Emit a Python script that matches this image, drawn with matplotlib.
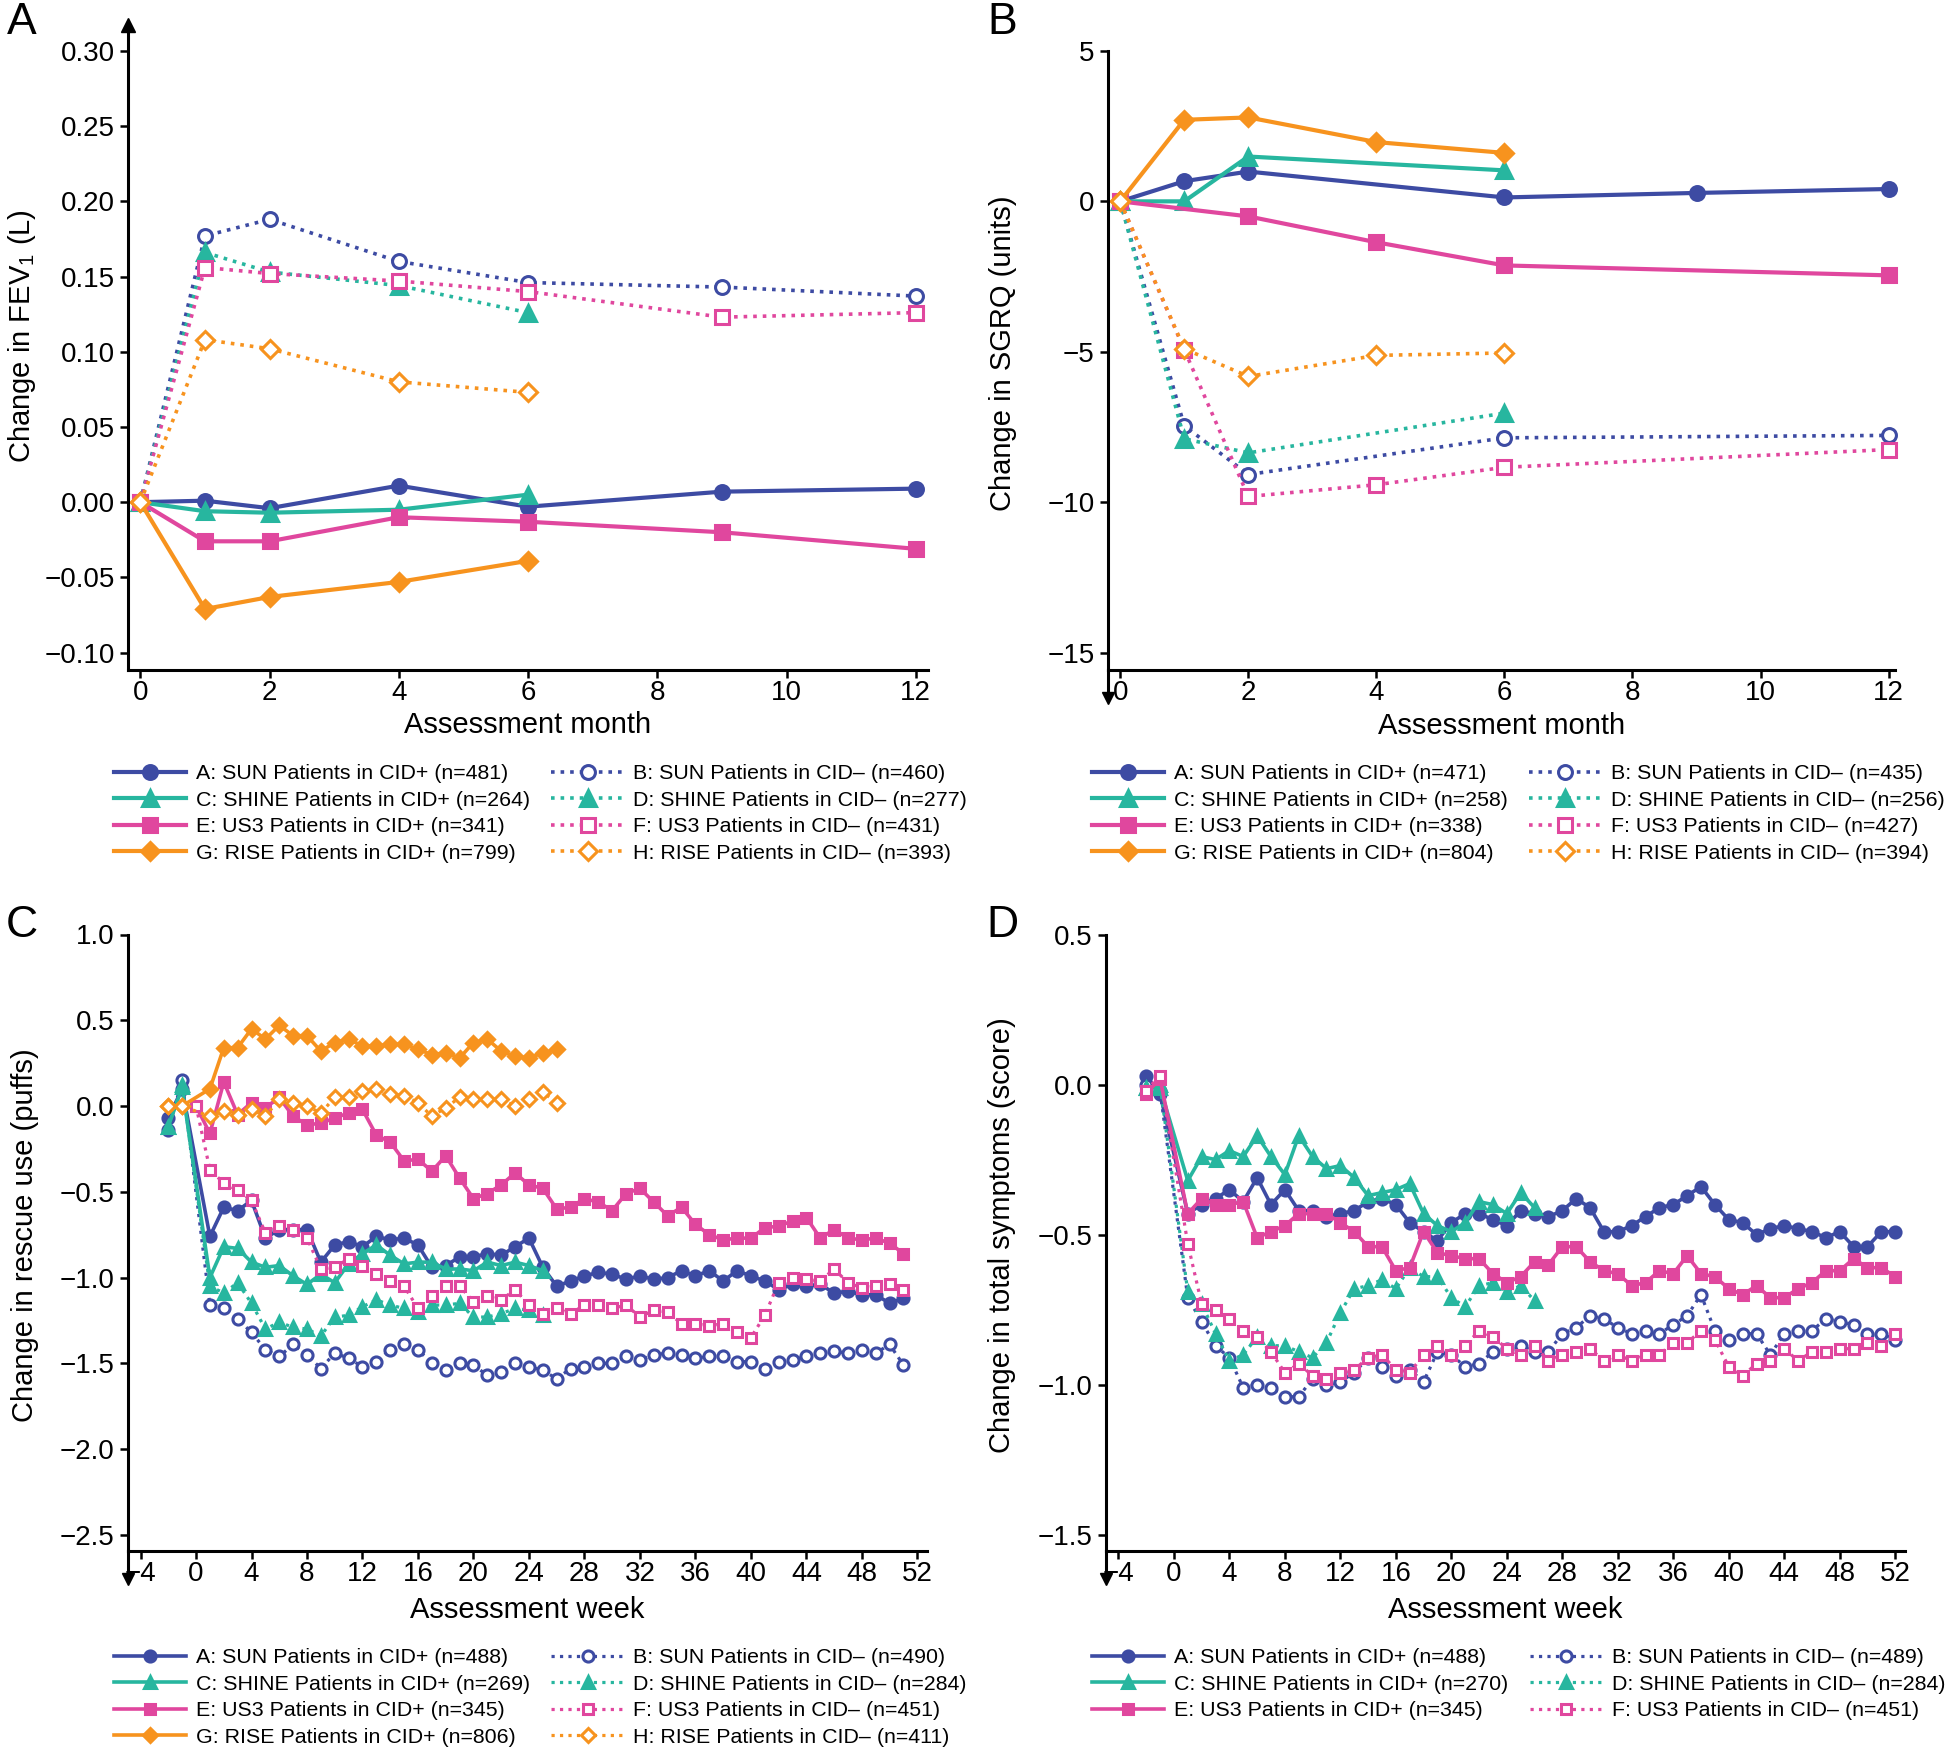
import matplotlib
matplotlib.use("Agg")
import matplotlib.pyplot as plt
from matplotlib.ticker import FuncFormatter

plt.rcParams["font.family"] = ["Liberation Sans", "DejaVu Sans"]
plt.rcParams["mathtext.default"] = "regular"

BLUE = "#3d4ba3"
TEAL = "#27b69f"
MAGENTA = "#e0479e"
ORANGE = "#f7931e"

# colour, line style, marker, filled marker
STYLE = {
    "A": (BLUE, "-", "o", True),
    "B": (BLUE, ":", "o", False),
    "C": (TEAL, "-", "^", True),
    "D": (TEAL, ":", "^", True),
    "E": (MAGENTA, "-", "s", True),
    "F": (MAGENTA, ":", "s", False),
    "G": (ORANGE, "-", "D", True),
    "H": (ORANGE, ":", "D", False),
}
MSCALE = {"o": 1.0, "^": 1.12, "s": 0.95, "D": 0.92}

# ---------------- Panel A: change in FEV1 (L) by month ----------------
months_12 = [0, 1, 2, 4, 6, 9, 12]
months_6 = [0, 1, 2, 4, 6]
fev_a = [0, 0.001, -0.004, 0.011, -0.003, 0.007, 0.009]
fev_b = [0, 0.177, 0.188, 0.160, 0.146, 0.143, 0.137]
fev_c = [0, -0.006, -0.007, -0.005, 0.005]
fev_d = [0, 0.166, 0.153, 0.144, 0.126]
fev_e = [0, -0.026, -0.026, -0.010, -0.013, -0.020, -0.031]
fev_f = [0, 0.156, 0.152, 0.147, 0.140, 0.123, 0.126]
fev_g = [0, -0.071, -0.063, -0.053, -0.039]
fev_h = [0, 0.108, 0.102, 0.080, 0.073]
labels_a = ["A: SUN Patients in CID+ (n=481)", "B: SUN Patients in CID– (n=460)",
            "C: SHINE Patients in CID+ (n=264)", "D: SHINE Patients in CID– (n=277)",
            "E: US3 Patients in CID+ (n=341)", "F: US3 Patients in CID– (n=431)",
            "G: RISE Patients in CID+ (n=799)", "H: RISE Patients in CID– (n=393)"]

# ---------------- Panel B: change in SGRQ by month ----------------
sg_months_a = [0, 1, 2, 6, 9, 12]
sg_months_b = [0, 1, 2, 6, 12]
sg_months_cd = [0, 1, 2, 6]
sg_months_e = [0, 2, 4, 6, 12]
sg_months_f = [0, 1, 2, 4, 6, 12]
sg_months_gh = [0, 1, 2, 4, 6]
sgrq_a = [0, 0.67, 0.99, 0.13, 0.28, 0.41]
sgrq_b = [0, -7.46, -9.08, -7.86, -7.78]
sgrq_c = [0, 0.0, 1.49, 1.03]
sgrq_d = [0, -7.89, -8.36, -7.04]
sgrq_e = [0, -0.50, -1.36, -2.13, -2.46]
sgrq_f = [0, -4.93, -9.81, -9.42, -8.84, -8.25]
sgrq_g = [0, 2.71, 2.79, 1.97, 1.61]
sgrq_h = [0, -4.90, -5.82, -5.12, -5.04]
labels_b = ["A: SUN Patients in CID+ (n=471)", "B: SUN Patients in CID– (n=435)",
            "C: SHINE Patients in CID+ (n=258)", "D: SHINE Patients in CID– (n=256)",
            "E: US3 Patients in CID+ (n=338)", "F: US3 Patients in CID– (n=427)",
            "G: RISE Patients in CID+ (n=804)", "H: RISE Patients in CID– (n=394)"]

# ---------------- Panel C: change in rescue use (puffs) by week ----------------
wk_run51 = [-2, -1] + list(range(1, 52))
wk_run25 = [-2, -1] + list(range(1, 26))
wk_run26 = [-2, -1] + list(range(1, 27))
wk_zero51 = [0] + list(range(1, 52))
rescue_a = [-0.07, 0.10,
            -0.76, -0.59, -0.61, -0.55, -0.77, -0.72, -0.72, -0.72, -0.91, -0.81,
            -0.79, -0.82, -0.76, -0.78, -0.77, -0.81, -0.94, -0.93, -0.88, -0.88,
            -0.86, -0.87, -0.82, -0.77, -0.94, -1.05, -1.02, -0.99, -0.97, -0.98,
            -1.01, -0.99, -1.01, -1.00, -0.96, -0.99, -0.96, -1.02, -0.96, -0.99,
            -1.02, -1.07, -1.04, -1.05, -1.04, -1.09, -1.08, -1.10, -1.10, -1.15, -1.12]
rescue_b = [-0.14, 0.15,
            -1.16, -1.18, -1.24, -1.32, -1.42, -1.46, -1.39, -1.45, -1.53, -1.44,
            -1.47, -1.52, -1.49, -1.42, -1.39, -1.42, -1.50, -1.54, -1.50, -1.51,
            -1.57, -1.55, -1.50, -1.52, -1.54, -1.59, -1.53, -1.52, -1.50, -1.50,
            -1.46, -1.48, -1.45, -1.44, -1.45, -1.47, -1.46, -1.46, -1.49, -1.49,
            -1.53, -1.49, -1.48, -1.46, -1.44, -1.43, -1.44, -1.42, -1.44, -1.39, -1.51]
rescue_c = [-0.12, 0.11,
            -1.00, -0.82, -0.83, -0.91, -0.94, -0.93, -0.99, -1.04, -0.98, -1.03,
            -0.92, -0.86, -0.81, -0.87, -0.92, -0.91, -0.91, -0.95, -0.95, -0.96,
            -0.91, -0.93, -0.91, -0.93, -0.96]
rescue_d = [-0.12, 0.12,
            -1.05, -1.09, -1.03, -1.15, -1.30, -1.26, -1.29, -1.30, -1.34, -1.23,
            -1.22, -1.17, -1.13, -1.16, -1.18, -1.20, -1.16, -1.16, -1.15, -1.23,
            -1.23, -1.21, -1.18, -1.19, -1.22]
rescue_e = [0.0,
            -0.16, 0.14, -0.05, 0.02, -0.01, 0.05, -0.06, -0.11, -0.10, -0.07,
            -0.04, -0.02, -0.17, -0.21, -0.32, -0.31, -0.38, -0.29, -0.42, -0.54,
            -0.51, -0.46, -0.39, -0.46, -0.48, -0.60, -0.59, -0.54, -0.56, -0.61,
            -0.51, -0.48, -0.56, -0.64, -0.59, -0.69, -0.75, -0.78, -0.77, -0.77,
            -0.71, -0.70, -0.67, -0.65, -0.77, -0.72, -0.77, -0.78, -0.77, -0.80, -0.86]
rescue_f = [0.0,
            -0.37, -0.45, -0.49, -0.55, -0.74, -0.70, -0.72, -0.77, -0.95, -0.94,
            -0.89, -0.93, -0.98, -1.02, -1.05, -1.18, -1.11, -1.05, -1.05, -1.14,
            -1.11, -1.13, -1.07, -1.16, -1.21, -1.18, -1.21, -1.16, -1.16, -1.18,
            -1.16, -1.23, -1.19, -1.20, -1.27, -1.27, -1.28, -1.27, -1.32, -1.35,
            -1.22, -1.03, -1.00, -1.01, -1.02, -0.95, -1.03, -1.06, -1.05, -1.04, -1.07]
rescue_g = [0.0, 0.0,
            0.10, 0.34, 0.34, 0.45, 0.39, 0.47, 0.41, 0.41, 0.32, 0.37, 0.39,
            0.35, 0.35, 0.36, 0.36, 0.33, 0.30, 0.31, 0.28, 0.37, 0.39, 0.32,
            0.29, 0.28, 0.31, 0.33]
rescue_h = [0.0, 0.0,
            -0.06, -0.03, -0.05, -0.02, -0.06, 0.04, 0.02, 0.00, -0.04, 0.05, 0.05,
            0.09, 0.10, 0.07, 0.06, 0.02, -0.06, -0.01, 0.05, 0.04, 0.04, 0.04,
            0.00, 0.04, 0.08, 0.02]
labels_c = ["A: SUN Patients in CID+ (n=488)", "B: SUN Patients in CID– (n=490)",
            "C: SHINE Patients in CID+ (n=269)", "D: SHINE Patients in CID– (n=284)",
            "E: US3 Patients in CID+ (n=345)", "F: US3 Patients in CID– (n=451)",
            "G: RISE Patients in CID+ (n=806)", "H: RISE Patients in CID– (n=411)"]

# ---------------- Panel D: change in total symptoms by week ----------------
wk_run52 = [-2, -1] + list(range(1, 53))
sym_a = [0.03, -0.03,
         -0.43, -0.40, -0.38, -0.35, -0.39, -0.31, -0.40, -0.35, -0.42, -0.42,
         -0.44, -0.43, -0.42, -0.39, -0.38, -0.40, -0.46, -0.49, -0.52, -0.46,
         -0.43, -0.43, -0.45, -0.47, -0.42, -0.43, -0.44, -0.42, -0.38, -0.41,
         -0.49, -0.49, -0.47, -0.44, -0.41, -0.40, -0.37, -0.34, -0.40, -0.45,
         -0.46, -0.50, -0.48, -0.47, -0.48, -0.49, -0.51, -0.49, -0.54, -0.54,
         -0.49, -0.49]
sym_b = [0.0, -0.02,
         -0.71, -0.79, -0.87, -0.91, -1.01, -1.00, -1.01, -1.04, -1.04, -0.98,
         -1.00, -0.99, -0.96, -0.91, -0.94, -0.97, -0.95, -0.99, -0.89, -0.90,
         -0.94, -0.93, -0.89, -0.88, -0.87, -0.89, -0.89, -0.83, -0.81, -0.77,
         -0.78, -0.81, -0.83, -0.82, -0.83, -0.80, -0.77, -0.70, -0.82, -0.85,
         -0.83, -0.83, -0.90, -0.83, -0.82, -0.82, -0.78, -0.79, -0.80, -0.83,
         -0.83, -0.85]
sym_c = [-0.01, -0.01,
         -0.32, -0.24, -0.25, -0.22, -0.24, -0.17, -0.24, -0.30, -0.17, -0.24,
         -0.28, -0.27, -0.31, -0.37, -0.36, -0.35, -0.33, -0.43, -0.47, -0.49,
         -0.46, -0.39, -0.40, -0.43, -0.36, -0.41]
sym_d = [-0.01, 0.0,
         -0.69, -0.73, -0.83, -0.92, -0.90, -0.84, -0.87, -0.87, -0.89, -0.91,
         -0.86, -0.76, -0.68, -0.67, -0.65, -0.68, -0.61, -0.64, -0.64, -0.71,
         -0.74, -0.67, -0.66, -0.69, -0.67, -0.72]
sym_e = [-0.03, 0.02,
         -0.43, -0.38, -0.40, -0.40, -0.39, -0.51, -0.49, -0.47, -0.43, -0.43,
         -0.43, -0.46, -0.49, -0.54, -0.54, -0.62, -0.61, -0.49, -0.56, -0.57,
         -0.58, -0.58, -0.63, -0.66, -0.64, -0.59, -0.60, -0.54, -0.54, -0.59,
         -0.62, -0.63, -0.67, -0.66, -0.62, -0.63, -0.57, -0.63, -0.64, -0.68,
         -0.70, -0.67, -0.71, -0.71, -0.68, -0.66, -0.62, -0.62, -0.58, -0.61,
         -0.61, -0.64]
sym_f = [-0.02, 0.03,
         -0.53, -0.73, -0.75, -0.78, -0.82, -0.84, -0.89, -0.96, -0.93, -0.97,
         -0.98, -0.96, -0.95, -0.91, -0.90, -0.95, -0.96, -0.90, -0.87, -0.90,
         -0.87, -0.82, -0.84, -0.88, -0.90, -0.87, -0.92, -0.90, -0.89, -0.88,
         -0.92, -0.90, -0.92, -0.90, -0.90, -0.86, -0.86, -0.82, -0.85, -0.94,
         -0.97, -0.93, -0.92, -0.88, -0.92, -0.89, -0.89, -0.88, -0.88, -0.86,
         -0.87, -0.83]
labels_d = ["A: SUN Patients in CID+ (n=488)", "B: SUN Patients in CID– (n=489)",
            "C: SHINE Patients in CID+ (n=270)", "D: SHINE Patients in CID– (n=284)",
            "E: US3 Patients in CID+ (n=345)", "F: US3 Patients in CID– (n=451)"]


def draw(ax, key, x, y, label, ms, lw):
    color, ls, marker, filled = STYLE[key]
    ax.plot(x, y, color=color, linestyle=ls, linewidth=lw,
            marker=marker, markersize=ms * MSCALE[marker],
            markerfacecolor=color if filled else "white",
            markeredgecolor=color, markeredgewidth=2.2,
            label=label, clip_on=False)


def setup(ax, xlim, ylim, xticks, yticks, yfmt, xlabel, ylabel, ylab_pos, xlab_y,
          top_arrow=False, bottom_ext=0.0):
    ax.set_xlim(*xlim)
    ax.set_ylim(*ylim)
    ax.set_xticks(xticks)
    ax.set_yticks(yticks)
    if yfmt:
        ax.yaxis.set_major_formatter(
            FuncFormatter(lambda v, p: (yfmt % v).replace("-", "\u2212")))
    for s in ("top", "right"):
        ax.spines[s].set_visible(False)
    for s in ("left", "bottom"):
        ax.spines[s].set_linewidth(2.2)
    ax.tick_params(length=5.5, width=1.8, labelsize=20)
    ax.tick_params(axis="y", pad=4)
    ax.tick_params(axis="x", pad=2)
    ax.set_xlabel(xlabel, fontsize=21)
    ax.set_ylabel(ylabel, fontsize=21)
    ax.yaxis.set_label_coords(*ylab_pos)
    ax.xaxis.set_label_coords(0.5, xlab_y)
    if top_arrow:
        ax.plot([0], [1.0], marker="^", ms=10, color="black",
                transform=ax.transAxes, clip_on=False)
    if bottom_ext:
        ax.plot([0, 0], [0, -bottom_ext], color="black", lw=2.2,
                transform=ax.transAxes, clip_on=False)
        ax.plot([0], [-bottom_ext], marker="v", ms=8.5, color="black",
                transform=ax.transAxes, clip_on=False)


def legend(ax, x, y, order):
    h, l = ax.get_legend_handles_labels()
    fig.legend([h[i] for i in order], [l[i] for i in order],
               loc="upper left", bbox_to_anchor=(x, y), ncol=2, frameon=False,
               fontsize=15.4, handlelength=3.37, handletextpad=0.46,
               columnspacing=1.0, labelspacing=0.35, borderpad=0, borderaxespad=0)


fig = plt.figure(figsize=(19.46, 17.5), dpi=100)
axA = fig.add_axes([0.0658, 0.6171, 0.4111, 0.3687])
axB = fig.add_axes([0.5694, 0.6171, 0.4044, 0.3538])
axC = fig.add_axes([0.0658, 0.1137, 0.4106, 0.3523])
axD = fig.add_axes([0.5683, 0.1137, 0.4106, 0.3523])

# Panel A
ms, lw = 10, 3
draw(axA, "A", months_12, fev_a, labels_a[0], ms, lw)
draw(axA, "B", months_12, fev_b, labels_a[1], ms, 2.6)
draw(axA, "C", months_6, fev_c, labels_a[2], ms, lw)
draw(axA, "D", months_6, fev_d, labels_a[3], ms, 2.6)
draw(axA, "E", months_12, fev_e, labels_a[4], ms, lw)
draw(axA, "F", months_12, fev_f, labels_a[5], ms, 2.6)
draw(axA, "G", months_6, fev_g, labels_a[6], ms, lw)
draw(axA, "H", months_6, fev_h, labels_a[7], ms, 2.6)
setup(axA, (-0.19, 12.19), (-0.1116, 0.3173), range(0, 13, 2),
      [-0.10, -0.05, 0, 0.05, 0.10, 0.15, 0.20, 0.25, 0.30], "%.2f",
      "Assessment month", "Change in FEV$_1$ (L)", (-0.112, 0.517), -0.064,
      top_arrow=True)

# Panel B
draw(axB, "A", sg_months_a, sgrq_a, labels_b[0], ms, lw)
draw(axB, "B", sg_months_b, sgrq_b, labels_b[1], ms, 2.6)
draw(axB, "C", sg_months_cd, sgrq_c, labels_b[2], ms, lw)
draw(axB, "D", sg_months_cd, sgrq_d, labels_b[3], ms, 2.6)
draw(axB, "E", sg_months_e, sgrq_e, labels_b[4], ms, lw)
draw(axB, "F", sg_months_f, sgrq_f, labels_b[5], ms, 2.6)
draw(axB, "G", sg_months_gh, sgrq_g, labels_b[6], ms, lw)
draw(axB, "H", sg_months_gh, sgrq_h, labels_b[7], ms, 2.6)
setup(axB, (-0.19, 12.1), (-15.58, 5), range(0, 13, 2), [-15, -10, -5, 0, 5], None,
      "Assessment month", "Change in SGRQ (units)", (-0.116, 0.511), -0.067,
      bottom_ext=0.045)

# Panel C
ms, lw = 8, 2.6
draw(axC, "A", wk_run51, rescue_a, labels_c[0], ms, lw)
draw(axC, "B", wk_run51, rescue_b, labels_c[1], ms, 2.3)
draw(axC, "C", wk_run25, rescue_c, labels_c[2], ms, lw)
draw(axC, "D", wk_run25, rescue_d, labels_c[3], ms, 2.3)
draw(axC, "E", wk_zero51, rescue_e, labels_c[4], ms, lw)
draw(axC, "F", wk_zero51, rescue_f, labels_c[5], ms, 2.3)
draw(axC, "G", wk_run26, rescue_g, labels_c[6], ms, lw)
draw(axC, "H", wk_run26, rescue_h, labels_c[7], ms, 2.3)
setup(axC, (-4.9, 52.7), (-2.594, 1.0), range(-4, 53, 4),
      [-2.5, -2.0, -1.5, -1.0, -0.5, 0.0, 0.5, 1.0], "%.1f",
      "Assessment week", "Change in rescue use (puffs)", (-0.112, 0.513), -0.073,
      bottom_ext=0.045)

# Panel D
draw(axD, "A", wk_run52, sym_a, labels_d[0], ms, lw)
draw(axD, "B", wk_run52, sym_b, labels_d[1], ms, 2.3)
draw(axD, "C", wk_run26, sym_c, labels_d[2], ms, lw)
draw(axD, "D", wk_run26, sym_d, labels_d[3], ms, 2.3)
draw(axD, "E", wk_run52, sym_e, labels_d[4], ms, lw)
draw(axD, "F", wk_run52, sym_f, labels_d[5], ms, 2.3)
setup(axD, (-4.9, 52.7), (-1.554, 0.5), range(-4, 53, 4),
      [-1.5, -1.0, -0.5, 0.0, 0.5], "%.1f",
      "Assessment week", "Change in total symptoms (score)", (-0.112, 0.513), -0.073,
      bottom_ext=0.045)

legend(axA, 0.0586, 0.5634, [0, 2, 4, 6, 1, 3, 5, 7])
legend(axB, 0.5612, 0.5634, [0, 2, 4, 6, 1, 3, 5, 7])
legend(axC, 0.0586, 0.0582, [0, 2, 4, 6, 1, 3, 5, 7])
legend(axD, 0.5612, 0.0582, [0, 2, 4, 1, 3, 5])

for letter, x, y in [("A", 0.0113, 0.987), ("B", 0.515, 0.987),
                     ("C", 0.0113, 0.4714), ("D", 0.515, 0.4714)]:
    fig.text(x, y, letter, fontsize=32, ha="center", va="center")

fig.savefig("out.png", dpi=100)
